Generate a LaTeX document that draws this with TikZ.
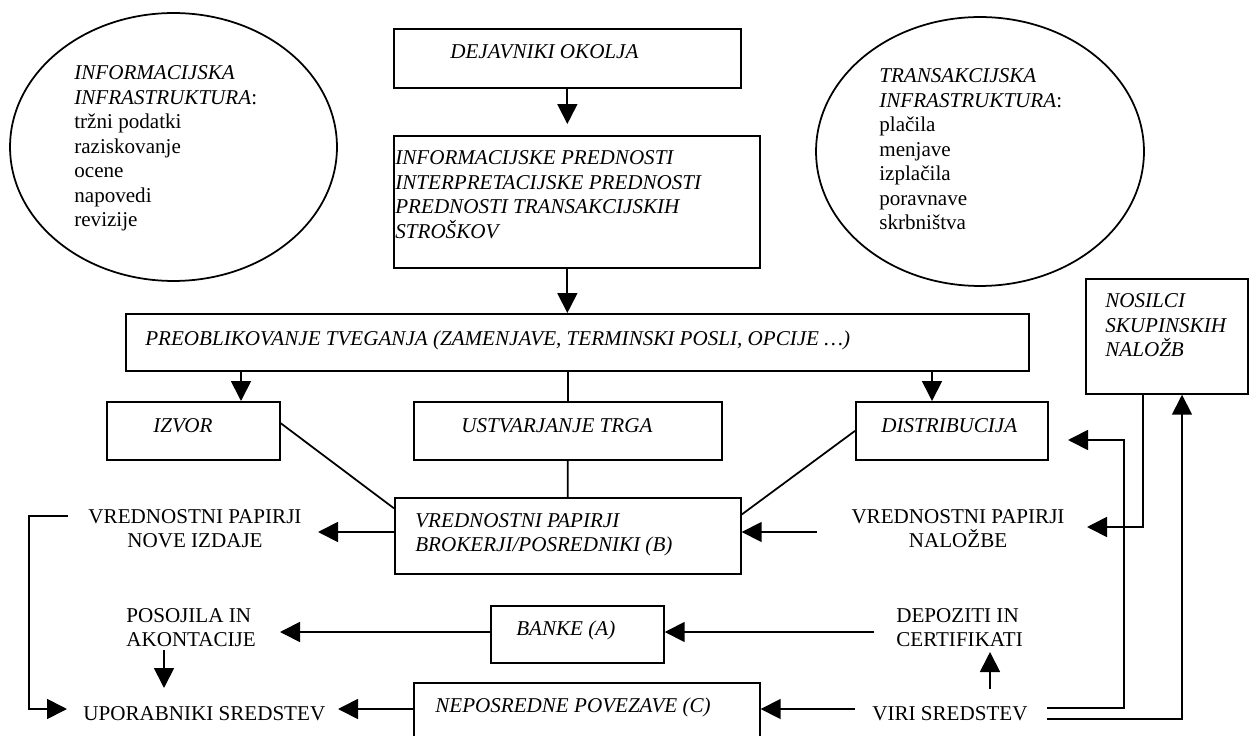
\documentclass[tikz,border=0pt]{standalone}
\usepackage{fontspec}
\setmainfont{Liberation Serif}
\usetikzlibrary{arrows.meta,shapes.geometric,calc}

\begin{document}
\begin{tikzpicture}[x=0.02cm, y=-0.02cm,
  every node/.style={font=\fontsize{12}{13.9}\selectfont, inner sep=0pt},
  box/.style={draw, line width=1pt, anchor=north west},
  oval/.style={draw, line width=1pt, ellipse},
  boxt/.style={anchor=base west, font=\fontsize{12}{13.9}\selectfont\itshape},
  lbl/.style={anchor=base west},
  clbl/.style={anchor=base},
  conn/.style={line width=1pt},
  arr/.style={line width=1pt, -{Triangle[width=0.4cm,length=0.4cm]}}]
  \newcommand{\lines}[2][4cm]{\parbox[t]{#1}{\raggedright #2}}
  \newcommand{\clines}[2][4.6cm]{\parbox[t]{#1}{\centering #2}}
  \useasboundingbox (0,0) rectangle (1250,736);

  \node[oval, minimum width=6.54cm, minimum height=5.36cm] (infra) at (173.5,147) {};
  \node[oval, minimum width=6.56cm, minimum height=5.38cm] (trans) at (980,151.5) {};
  \node[lbl] (infrat) at (74,80) {\lines[4.5cm]{\textit{INFORMACIJSKA}\\ \textit{INFRASTRUKTURA}:\\ tržni podatki\\ raziskovanje\\ ocene\\ napovedi\\ revizije}};
  \node[lbl] (transt) at (879,83) {\lines[4.5cm]{\textit{TRANSAKCIJSKA}\\ \textit{INFRASTRUKTURA}:\\ plačila\\ menjave\\ izplačila\\ poravnave\\ skrbništva}};

  \node[box, minimum width=6.94cm, minimum height=1.18cm] (dej) at (393,28) {};
  \node[box, minimum width=7.32cm, minimum height=2.64cm] (info) at (393,135) {};
  \node[box, minimum width=18.06cm, minimum height=1.14cm] (preobl) at (125,313) {};
  \node[box, minimum width=3.46cm, minimum height=1.16cm] (izvor) at (106,401) {};
  \node[box, minimum width=6.16cm, minimum height=1.16cm] (ustv) at (413,401) {};
  \node[box, minimum width=3.84cm, minimum height=1.16cm] (distrib) at (855,401) {};
  \node[box, minimum width=3.24cm, minimum height=2.30cm] (nosilci) at (1085,278) {};
  \node[box, minimum width=6.92cm, minimum height=1.52cm] (brokers) at (394,497) {};
  \node[box, minimum width=3.46cm, minimum height=1.14cm] (banke) at (490,605) {};
  \node[box, minimum width=6.92cm, minimum height=1.30cm] (neposr) at (413,682) {};

  \node[boxt] (dejt) at (450,59) {DEJAVNIKI OKOLJA};
  \node[boxt] (infot) at (395,165) {\lines[7cm]{INFORMACIJSKE PREDNOSTI\\ INTERPRETACIJSKE PREDNOSTI\\ PREDNOSTI TRANSAKCIJSKIH\\ STROŠKOV}};
  \node[boxt] (preoblt) at (145,345) {PREOBLIKOVANJE TVEGANJA (ZAMENJAVE, TERMINSKI POSLI, OPCIJE …)};
  \node[boxt] (izvort) at (153,432) {IZVOR};
  \node[boxt] (ustvt) at (461,432) {USTVARJANJE TRGA};
  \node[boxt] (distribt) at (881,432) {DISTRIBUCIJA};
  \node[boxt] (nosilcit) at (1105,308) {\lines[2.8cm]{NOSILCI\\ SKUPINSKIH\\ NALOŽB}};
  \node[boxt] (brokerst) at (415,527) {\lines[6cm]{VREDNOSTNI PAPIRJI\\ BROKERJI/POSREDNIKI (B)}};
  \node[boxt] (banket) at (516,635) {BANKE (A)};
  \node[boxt] (neposrt) at (435,712) {NEPOSREDNE POVEZAVE (C)};

  \node[clbl] (vpnove) at (195,523) {\clines{VREDNOSTNI PAPIRJI\\ NOVE IZDAJE}};
  \node[clbl] (vpnal) at (958,523) {\clines{VREDNOSTNI PAPIRJI\\ NALOŽBE}};
  \node[lbl] (posoj) at (126,622) {\lines[3cm]{POSOJILA IN\\ AKONTACIJE}};
  \node[lbl] (depoz) at (896,622) {\lines[3cm]{DEPOZITI IN\\ CERTIFIKATI}};
  \node[lbl] (upor) at (83,720) {UPORABNIKI SREDSTEV};
  \node[lbl] (viri) at (872,720) {VIRI SREDSTEV};

  \coordinate (izvx) at (241,0);
  \coordinate (distx) at (932,0);
  \coordinate (nosx) at (1182,0);
  \coordinate (nosx2) at (1143,0);
  \coordinate (vpnalw) at (817,532);
  \coordinate (vpnale) at (1087,527);
  \coordinate (vpnovee) at (318,532);
  \coordinate (vpnovew) at (68,516);
  \coordinate (uporw) at (67,709);
  \coordinate (upore) at (338,709);
  \coordinate (posoje) at (280,632);
  \coordinate (posojs) at (164,650);
  \coordinate (upors) at (164,688);
  \coordinate (depozw) at (874,632);
  \coordinate (depozs) at (990,652);
  \coordinate (virin) at (990,689);
  \coordinate (viriw) at (855,709);
  \coordinate (virie) at (1047,708);
  \coordinate (virie2) at (1047,719);
  \coordinate (distre) at (1068,440);

  \draw[arr, shorten >=0.22cm] (dej.south) -- (dej.south |- info.north);
  \draw[arr] (info.south -| dej.south) -- (preobl.north -| dej.south);
  \draw[arr] (preobl.south -| izvx) -- (izvor.north -| izvx);
  \draw[conn] (preobl.south -| ustv.north) -- (ustv.north);
  \draw[arr] (preobl.south -| distx) -- (distrib.north -| distx);
  \draw[conn] (ustv.south) -- (brokers.north);
  \draw[conn] (izvor.5) -- (brokers.171);
  \draw[conn] (distrib.west) -- (brokers.7);
  \draw[arr] (vpnalw) -- (brokers.east |- vpnalw);
  \draw[arr] (brokers.west |- vpnovee) -- (vpnovee);
  \draw[arr] (vpnovew) -- ++(-39,0) |- (uporw);
  \draw[arr] (banke.west |- posoje) -- (posoje);
  \draw[arr] (depozw) -- (banke.east |- depozw);
  \draw[arr] (posojs) -- (upors);
  \draw[arr] (neposr.west |- upore) -- (upore);
  \draw[arr] (viriw) -- (neposr.east |- viriw);
  \draw[arr] (virin) -- (depozs);
  \draw[arr] (virie) -- ++(77,0) |- (distre);
  \draw[arr] (virie2) -| (nosilci.south -| nosx);
  \draw[arr] (nosilci.south -| nosx2) |- (vpnale);

\end{tikzpicture}
\end{document}
